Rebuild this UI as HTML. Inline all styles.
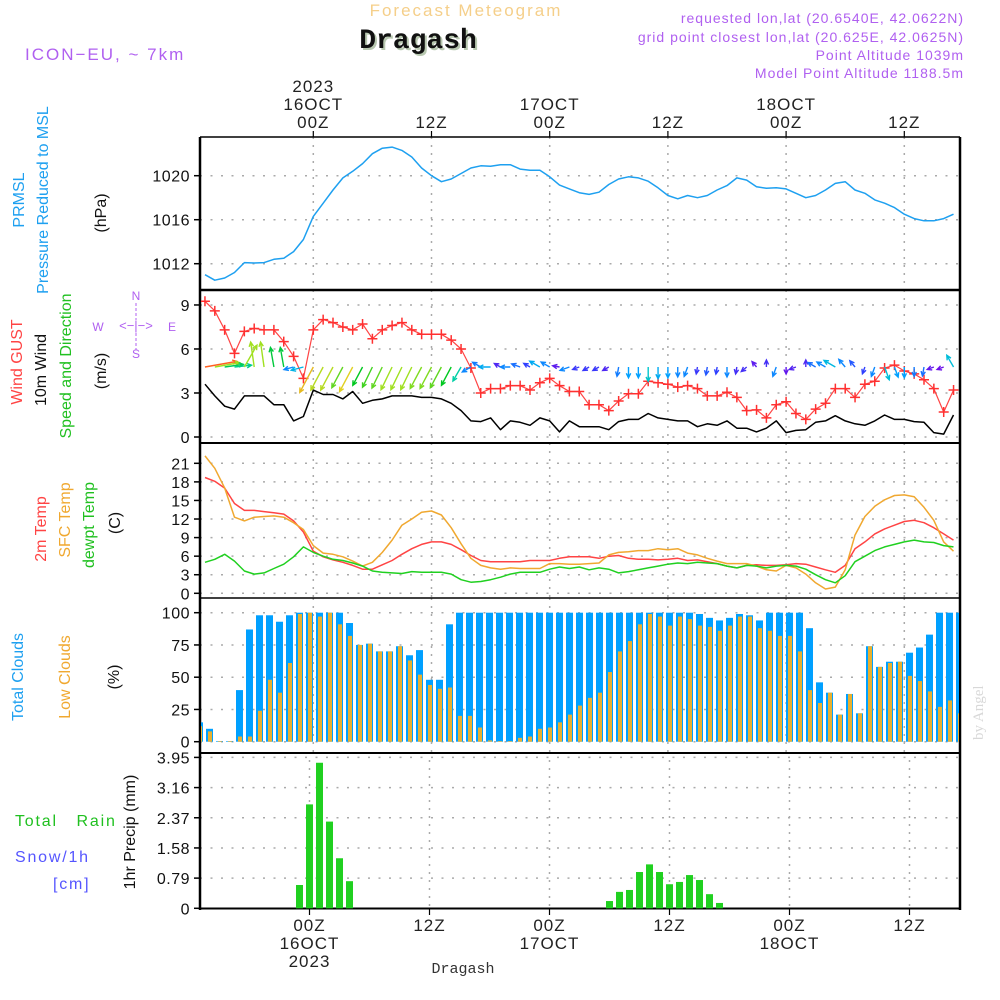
<!DOCTYPE html>
<html><head><meta charset="utf-8">
<style>
html,body{margin:0;padding:0;background:#fff;}
svg{display:block;font-family:"Liberation Sans",sans-serif;}
.pre{white-space:pre;}
</style></head>
<body>
<svg id="chart" width="1000" height="1000" viewBox="0 0 1000 1000" xmlns="http://www.w3.org/2000/svg">
<rect x="0" y="0" width="1000" height="1000" fill="#fff"/>
<text x="466" y="16" font-size="17" fill="#f5cf8a" text-anchor="middle" letter-spacing="2">Forecast Meteogram</text>
<text x="418" y="48" font-family="Liberation Mono, monospace" font-weight="bold" font-size="28" fill="#111" text-anchor="middle" style="text-shadow:2px 2px 0 #b8c8b0">Dragash</text>
<text x="25" y="60" font-size="17" fill="#b060f0" letter-spacing="2">ICON−EU, ~ 7km</text>
<g font-size="14" fill="#b060f0" text-anchor="end" letter-spacing="1">
<text x="964" y="23">requested lon,lat (20.6540E, 42.0622N)</text>
<text x="964" y="42">grid point closest lon,lat (20.625E, 42.0625N)</text>
<text x="964" y="60">Point Altitude 1039m</text>
<text x="964" y="78">Model Point Altitude 1188.5m</text>
</g>
<text transform="translate(983,740) rotate(-90)" font-family="Liberation Serif, serif" font-size="15" fill="#d8d8d8">by Angel</text>
<g id="axes"></g>
<g id="marks"></g>
<g id="labels"></g>
</svg>
<script>
// ---- data (hours from 00Z 16OCT, -11..65) ----
const hourStart = -11;
const pressure = [1011.0,1010.5,1010.7,1011.2,1012.1,1012.06,1012.1,1012.4,1012.5,1013.1,1014.2,1016.3,1017.5,1018.7,1019.8,1020.4,1021.1,1022.0,1022.5,1022.6,1022.3,1021.7,1020.7,1020.0,1019.45,1019.7,1020.2,1020.7,1020.9,1020.85,1021.0,1021.0,1020.6,1020.5,1020.5,1019.9,1019.15,1018.8,1018.45,1018.3,1018.5,1019.2,1019.7,1019.9,1019.8,1019.5,1018.9,1018.2,1017.9,1018.2,1018.0,1018.2,1018.7,1019.1,1019.8,1019.6,1019.0,1018.85,1018.9,1018.8,1018.4,1018.0,1018.2,1018.7,1019.3,1019.45,1018.7,1018.4,1017.8,1017.5,1017.1,1016.5,1016.1,1015.9,1015.9,1016.1,1016.5];
const wind10m = [3.6,2.8,2.1,1.9,2.8,2.8,2.8,2.2,2.2,1.1,1.4,3.2,2.9,2.9,2.6,3.1,2.3,2.5,2.6,2.8,2.8,2.8,2.7,2.7,2.6,2.3,1.8,1.1,1.05,1.3,0.5,1.1,1.0,0.8,1.3,1.1,0.35,1.1,0.7,0.7,0.7,0.5,1.05,1.2,1.2,1.6,1.3,1.2,1.1,1.1,0.7,0.9,0.8,1.1,0.6,0.6,0.35,0.6,1.1,0.3,0.45,0.5,1.0,1.1,1.45,1.1,0.9,0.8,1.1,1.5,1.2,1.2,1.05,1.0,0.3,0.2,1.5];
const windGust = [9.25,8.6,7.3,5.7,7.2,7.4,7.3,7.3,6.5,5.5,4.0,7.3,8.0,7.8,7.5,7.3,7.7,6.7,7.3,7.6,7.8,7.3,7.0,7.0,7.0,6.6,6.0,4.7,3.0,3.3,3.3,3.5,3.5,3.2,3.7,4.0,3.5,3.1,3.1,2.2,2.2,1.8,2.45,2.95,2.95,3.8,3.7,3.6,3.4,3.5,3.3,2.8,2.8,3.05,2.7,1.8,1.85,1.3,2.2,2.4,1.6,1.2,1.9,2.3,3.3,3.3,2.7,3.6,3.8,4.7,4.9,4.5,4.3,3.9,3.3,1.7,3.2];
const windDir = [80,80,82,84,30,-8,-8,-10,-10,-105,-105,208,208,208,208,208,208,206,206,206,206,206,208,208,208,208,210,240,300,270,300,270,290,300,300,300,280,250,250,240,240,240,190,180,180,180,180,180,180,200,190,190,190,180,190,230,320,0,200,180,250,0,300,300,300,320,320,200,200,160,160,180,180,190,250,250,330];
const temp2m = [18.7,18.1,17.0,14.5,13.4,13.4,13.2,13.0,12.8,11.7,9.9,6.8,5.9,5.4,5.0,4.5,3.9,3.9,4.6,5.3,6.3,7.2,7.9,8.3,8.3,7.9,7.05,6.1,5.3,5.1,5.1,5.1,5.1,5.3,5.3,5.3,5.65,5.9,5.9,5.9,5.65,6.0,6.1,5.65,5.5,5.5,5.4,5.5,5.65,5.3,5.4,5.1,4.8,4.4,4.1,4.5,4.6,4.5,4.5,4.6,4.8,4.7,4.25,3.8,3.4,4.5,7.2,8.3,9.6,10.4,11.0,11.6,11.8,11.4,10.6,9.6,8.6];
const tempSfc = [22.2,20.2,17.0,12.3,11.7,12.3,12.4,12.5,12.3,11.4,10.3,7.7,6.5,6.3,5.9,5.2,4.4,5.0,6.6,8.6,11.0,12.0,13.1,13.3,12.65,10.6,8.0,5.65,4.5,4.1,3.9,4.1,4.0,4.0,4.0,4.8,4.8,4.7,4.7,4.8,4.9,6.2,6.6,6.7,6.9,6.9,7.2,7.05,7.2,6.5,6.2,5.65,5.2,4.8,4.8,4.8,4.4,3.8,3.6,4.5,4.1,3.1,1.7,0.7,1.0,3.8,9.4,12.4,14.05,15.1,15.8,15.9,15.6,13.9,11.8,8.3,6.8];
const dewpt = [5.0,5.5,6.3,5.2,3.6,3.1,3.3,4.0,4.7,5.9,7.5,6.6,6.0,5.5,5.3,4.9,4.4,3.6,3.4,3.3,3.2,3.5,3.4,3.4,3.4,3.1,2.2,1.8,1.9,2.2,2.6,3.1,3.4,3.4,3.4,3.9,4.25,4.0,4.25,3.8,4.1,3.9,3.3,3.5,3.8,4.1,4.4,4.7,4.9,4.8,5.0,4.9,4.8,4.4,4.1,4.5,4.4,4.1,4.4,4.5,4.4,3.9,3.0,2.2,1.7,2.85,5.1,6.0,6.9,7.5,7.9,8.3,8.6,8.3,8.2,7.7,7.5];
const totalClouds = [15,10,0.5,0.5,40,87,98,98,93,98,100,100,100,100,100,92,75,76,70,70,74,67,71,48,48,91,100,100,100,100,100,100,100,100,100,100,100,100,100,100,100,100,100,100,100,100,100,100,100,100,99,96,94,96,99,98,94,100,100,100,100,88,46,38,21,37,22,74,58,62,62,69,73,83,100,100,100];
const lowClouds = [12,8,0.5,0.5,4,4,24,48,38,61,99,100,97,100,91,82,75,76,70,70,74,63,52,44,41,42,20,20,11,1,0.5,0.5,3,4,10,11,15,21,28,34,38,54,70,78,91,99,97,90,97,95,90,89,86,90,97,97,88,86,82,82,70,40,30,38,21,37,22,74,58,61,62,51,47,39,27,32,22];
const precipHours = [-1,0,1,2,3,4,30,31,32,33,34,35,36,37,38,39,40,41];
const precipMm = [0.61,2.72,3.81,2.27,1.31,0.71,0.19,0.43,0.48,0.95,1.15,0.95,0.63,0.69,0.87,0.74,0.37,0.14];
const pTicks = [1012,1016,1020];
const wTicks = [0,3,6,9];
const tTicks = [0,3,6,9,12,15,18,21];
const cTicks = [0,25,50,75,100];
const rTicks = [0,0.79,1.58,2.37,3.16,3.95];
const rTickLabels = ["0","0.79","1.58","2.37","3.16","3.95"];
const topDays = [{h:0,d:"16OCT",y:"2023"},{h:24,d:"17OCT"},{h:48,d:"18OCT"}];
const zHours = [0,12,24,36,48,60];

// ---- scales ----
const X0=200,X1=960;
function xs(h){return 313.3+9.85*h;}
function xb(h){return 309.5+10*h;}
function yP(v){return 175.7-(v-1020)*11;}
function yW(v){return 437-v*14.67;}
function yT(v){return 593.3-v*6.19;}
function yC(v){return 741.7-v*1.29;}
function yR(v){return 908.3-v*38.2;}
const NS="http://www.w3.org/2000/svg";
const axes=document.getElementById('axes'),marks=document.getElementById('marks'),labels=document.getElementById('labels');
function el(tag,attrs,parent,txt){const e=document.createElementNS(NS,tag);for(const k in attrs)e.setAttribute(k,attrs[k]);if(txt!==undefined)e.textContent=txt;parent.appendChild(e);return e;}

const panels=[
 {name:'pressure',top:137,bot:290,ticks:pTicks,tl:pTicks.map(String),f:yP},
 {name:'wind',top:290,bot:443,ticks:wTicks,tl:wTicks.map(String),f:yW},
 {name:'temperature',top:443,bot:598,ticks:tTicks,tl:tTicks.map(String),f:yT},
 {name:'clouds',top:598,bot:752,ticks:cTicks,tl:cTicks.map(String),f:yC},
 {name:'precip',top:752,bot:908,ticks:rTicks,tl:rTickLabels,f:yR}
];
panels.forEach((p,pi)=>{
  p.ticks.forEach((t,i)=>{
    const y=p.f(t);
    const g=el('line',{x1:X0,x2:X1,y1:y,y2:y,stroke:'#aaa','stroke-width':1.5,'stroke-dasharray':'2 8.5'},axes);
    
    
    const tk=el('line',{x1:194,x2:200,y1:y,y2:y,stroke:'#000','stroke-width':1.5},axes);
    
    
    const tl=el('text',{x:190,y:y+6,'font-size':16,'text-anchor':'end',fill:'#111','letter-spacing':0.5},axes,p.tl[i]);
    
    
  });
  zHours.forEach(h=>{
    const x=pi===4?xb(h):xs(h);
    const g=el('line',{x1:x,x2:x,y1:p.top,y2:p.bot,stroke:'#aaa','stroke-width':1.5,'stroke-dasharray':'2 6'},axes);
    
    
  });
});
// frame
[[X0,137,X1,137,1.5],[X0,137,X0,910,2.5],[X1,137,X1,910,2.5],[X0,290,X1,290,2.5],[X0,443,X1,443,2],[X0,598,X1,598,1.5],[X0,753,X1,753,2],[X0,908.5,X1,908.5,2]].forEach(l=>{
  const e=el('line',{x1:l[0],y1:l[1],x2:l[2],y2:l[3],stroke:'#000','stroke-width':l[4]},axes);
  
  
});
// top/bottom time axis
zHours.forEach(h=>{
  const t=el('line',{x1:xs(h),x2:xs(h),y1:131,y2:137,stroke:'#000','stroke-width':1.2},axes);
  
  
  const lbl=el('text',{x:xs(h),y:128,'font-size':17,'text-anchor':'middle',fill:'#222','letter-spacing':1},labels,(h%24===0?'00Z':'12Z'));
  
  
  const b=el('line',{x1:xb(h),x2:xb(h),y1:908,y2:915,stroke:'#000','stroke-width':1.2},axes);
  
  
  const bl=el('text',{x:xb(h),y:931,'font-size':17,'text-anchor':'middle',fill:'#222','letter-spacing':1},labels,(h%24===0?'00Z':'12Z'));
  
  
});
topDays.forEach(d=>{
  const a=el('text',{x:xs(d.h),y:110,'font-size':17,'text-anchor':'middle',fill:'#222','letter-spacing':1},labels,d.d);
  
  
  const b=el('text',{x:xb(d.h),y:949,'font-size':17,'text-anchor':'middle',fill:'#222','letter-spacing':1},labels,d.d);
  
  
  if(d.y){
    const c=el('text',{x:xs(d.h),y:92,'font-size':17,'text-anchor':'middle',fill:'#222','letter-spacing':1},labels,d.y);
    
    
    const e=el('text',{x:xb(d.h),y:967,'font-size':17,'text-anchor':'middle',fill:'#222','letter-spacing':1},labels,d.y);
    
    
  }
});

// clip
const defs=el('defs',{},marks);
const cp=el('clipPath',{id:'plotclip'},defs);
el('rect',{x:X0+1,y:137,width:X1-X0-2,height:775},cp);
const mg=el('g',{'clip-path':'url(#plotclip)'},marks);

function line(arr,f,color,name,w){
  const pts=arr.map((v,i)=>xs(hourStart+i).toFixed(1)+','+f(v).toFixed(1)).join(' ');
  const e=el('polyline',{points:pts,fill:'none',stroke:color,'stroke-width':w||1.5,'stroke-linejoin':'round'},mg);
  
  
}
// clouds
totalClouds.forEach((v,i)=>{
  const h=hourStart+i,x=xb(h);
  const r=el('rect',{x:x-3.5,y:yC(v),width:7,height:yC(0)-yC(v),fill:'#00a0ff'},mg);
  
  
});
lowClouds.forEach((v,i)=>{
  const h=hourStart+i,x=xb(h);
  const r=el('rect',{x:x-1.5,y:yC(v),width:4,height:yC(0)-yC(v),fill:'#e8b030'},mg);
  
  
});
// precip
precipHours.forEach((h,i)=>{
  const v=precipMm[i];
  const r=el('rect',{x:xb(h)-3.5,y:yR(v),width:7,height:yR(0)-yR(v),fill:'#20d020'},mg);
  
  
});
// lines
line(pressure,yP,'#1ea0f0','pressure-line');
line(temp2m,yT,'#ff4444','temp-2m-line');
line(tempSfc,yT,'#f0a830','temp-sfc-line');
line(dewpt,yT,'#20d020','dewpoint-line');
line(wind10m,yW,'#000','wind-10m-line');
line(windGust,yW,'#ff4444','wind-gust-line',1.2);
windGust.forEach((v,i)=>{
  const x=xs(hourStart+i),y=yW(v);
  const m=el('path',{d:`M${x-5},${y}H${x+5}M${x},${y-5}V${y+5}`,stroke:'#ff3030','stroke-width':1.5},mg);
  
  
});
// wind arrows
function speedColor(v){
  const stops=[[0,[128,0,224]],[0.8,[48,64,255]],[1.2,[0,160,255]],[1.7,[0,208,192]],[2.3,[0,200,32]],[2.8,[160,224,32]],[3.1,[224,208,32]],[3.6,[255,96,32]]];
  if(v<=0)return 'rgb(128,0,224)';
  for(let i=1;i<stops.length;i++){if(v<=stops[i][0]){const a=stops[i-1],b=stops[i],t=(v-a[0])/(b[0]-a[0]);return 'rgb('+a[1].map((c,k)=>Math.round(c+(b[1][k]-c)*t)).join(',')+')';}}
  return 'rgb(255,96,32)';
}
windDir.forEach((d,i)=>{
  const v=wind10m[i],x=xs(hourStart+i),y=367;
  const L=Math.max(7,v*9),r=d*Math.PI/180;
  const dx=Math.sin(r)*L,dy=-Math.cos(r)*L;
  const ex=x+dx,ey=y+dy,hl=5;
  const a1=r+Math.PI-0.45,a2=r+Math.PI+0.45;
  const p=`M${x},${y}L${ex},${ey}M${ex+Math.sin(a1)*hl},${ey-Math.cos(a1)*hl}L${ex},${ey}L${ex+Math.sin(a2)*hl},${ey-Math.cos(a2)*hl}`;
  const e=el('path',{d:p,stroke:speedColor(v),'stroke-width':1.4,fill:'none'},mg);
  
  
});

// left labels
function vlabel(x,y,txt,color,name,size){
  const e=el('text',{transform:`translate(${x},${y}) rotate(-90)`,'font-size':size||16,'text-anchor':'middle',fill:color},labels,txt);
  
  
}
vlabel(24,200,'PRMSL','#1ea0f0','pressure-label-1');
vlabel(48,200,'Pressure Reduced to MSL','#1ea0f0','pressure-label-2');
vlabel(106,213,'(hPa)','#111','pressure-unit');
vlabel(22,362,'Wind GUST','#ff4444','gust-label');
vlabel(46,370,'10m Wind','#111','wind-label');
vlabel(71,366,'Speed and Direction','#20c020','wind-dir-label');
vlabel(106,371,'(m/s)','#111','wind-unit');
vlabel(46,529,'2m Temp','#ff4444','temp-2m-label');
vlabel(70,520,'SFC Temp','#f0a830','temp-sfc-label');
vlabel(94,525,'dewpt Temp','#20c020','dewpt-label');
vlabel(120,523,'(C)','#111','temp-unit');
vlabel(23,677,'Total Clouds','#1ea0f0','total-clouds-label');
vlabel(70,677,'Low Clouds','#f0a830','low-clouds-label');
vlabel(119,677,'(%)','#111','clouds-unit');
vlabel(135,832,'1hr Precip (mm)','#111','precip-label');
[['Total   Rain',15,826,'#20c020','rain-label'],['Snow/1h',15,862,'#5555ff','snow-label'],['[cm]',53,889,'#5555ff','snow-unit']].forEach(t=>{
  const e=el('text',{x:t[1],y:t[2],'font-size':16,fill:t[3],'letter-spacing':1.8,'class':'pre'},labels,t[0]);
  
  
});
// compass
const cg=el('g',{fill:'#b060f0','font-size':12,'text-anchor':'middle'},labels);


el('text',{x:136,y:300},cg,'N');el('text',{x:136,y:358},cg,'S');el('text',{x:98,y:331},cg,'W');el('text',{x:172,y:331},cg,'E');
el('text',{x:136,y:330,'font-size':13},cg,'<−|−>');
el('path',{d:'M136,303V320M136,333V350',stroke:'#b060f0','stroke-width':1,'stroke-dasharray':'3 2'},cg);
const ft=el('text',{x:463,y:973,'font-family':'Liberation Mono, monospace','font-size':15,'text-anchor':'middle',fill:'#333'},labels,'Dragash');


</script>
</body></html>
